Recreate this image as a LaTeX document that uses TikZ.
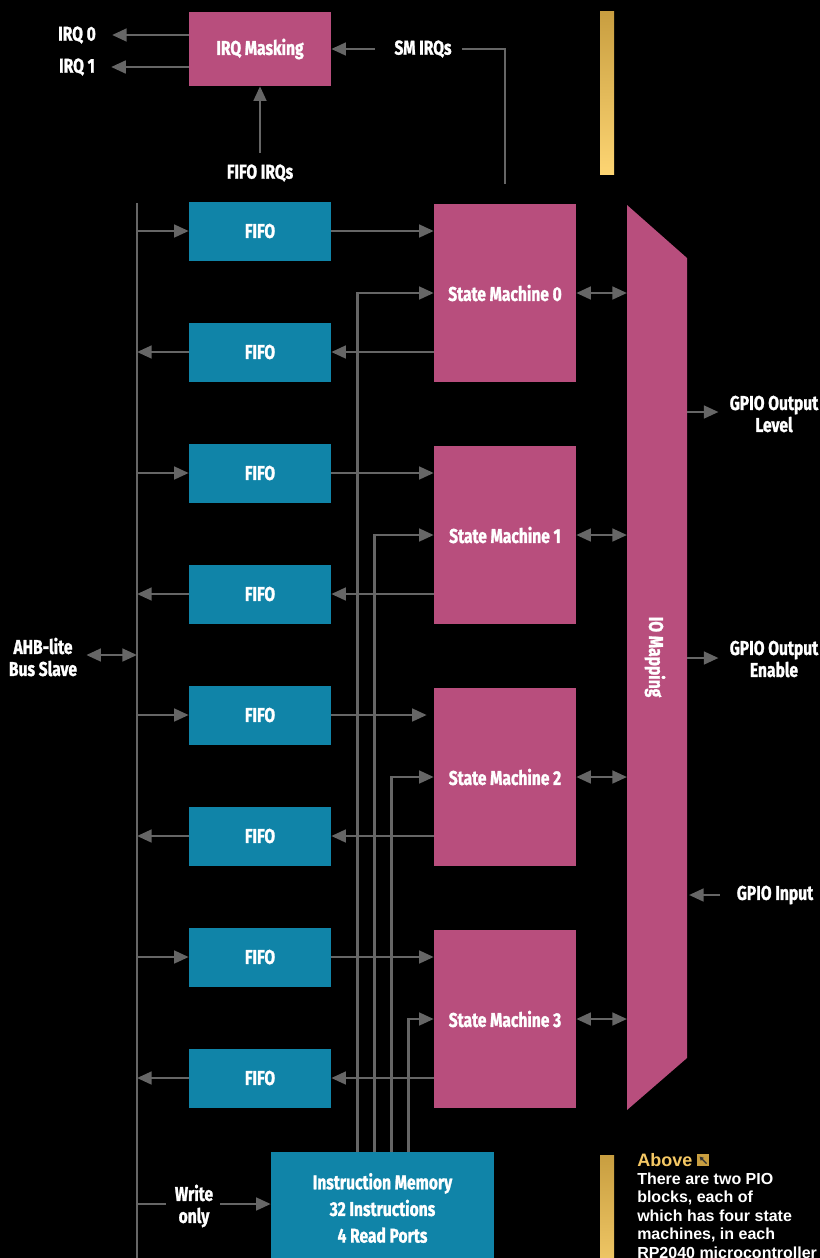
\documentclass[tikz,border=0pt]{standalone}
\usepackage{fontspec}
\setmainfont{Liberation Sans}
\newfontfamily\din[FakeStretch=0.78,FakeBold=1.2]{Fira Sans}
\usetikzlibrary{arrows.meta,calc}
\definecolor{pinkc}{RGB}{184,78,125}
\definecolor{tealc}{RGB}{16,132,168}
\definecolor{linec}{RGB}{102,102,102}
\definecolor{goldt}{RGB}{200,158,64}
\definecolor{goldb}{RGB}{253,213,115}
\definecolor{goldtxt}{RGB}{245,200,100}
\newdimen\pxu \pxu=0.75pt
\begin{document}
\begin{tikzpicture}[x=0.75pt,y=-0.75pt,
  dinfont/.style={font=\din\bfseries\fontsize{15}{16.5}\selectfont},
  box/.style={draw=none, inner sep=0pt, text=white, dinfont, align=center},
  pinkbox/.style={box, fill=pinkc, minimum width=142\pxu},
  fifobox/.style={box, fill=tealc, minimum width=142\pxu, minimum height=59\pxu},
  smbox/.style={box, fill=pinkc, minimum width=142\pxu, minimum height=178\pxu},
  lbl/.style={text=white, inner sep=0pt, dinfont, align=center},
  wire/.style={draw=linec, line width=2pt},
  arr/.style={wire, -{Triangle[length=11pt,width=9.5pt]}},
  darr/.style={wire, {Triangle[length=11pt,width=9.5pt]}-{Triangle[length=11pt,width=9.5pt]}},
  captxt/.style={text=white, inner sep=0pt, anchor=base west, font=\bfseries\fontsize{12}{14}\selectfont}
]
\useasboundingbox (0,0) rectangle (820,1258);
\fill[black] (0,0) rectangle (820,1258);

% gold bars
\shade[top color=goldt, bottom color=goldb] (600,11) rectangle (614,174);
\shade[top color=goldt, bottom color=goldb] (600,1155) rectangle (614,1300);

% top part
\node[pinkbox, minimum height=74\pxu] (irqm) at (260,49) {IRQ Masking};
\node[lbl] (irq0) at (77,35) {IRQ 0};
\node[lbl] (irq1) at (77,67) {IRQ 1};
\node[lbl] (smirq) at (423,49) {SM IRQs};
\node[lbl] (fifoirq) at (260,173) {FIFO IRQs};

% FIFOs
\foreach \i/\y in {1/231,2/352,3/473,4/594,5/715,6/836,7/957,8/1078}
  \node[fifobox] (f\i) at (260,\y) {FIFO};

% State machines
\foreach \i/\y in {0/293,1/535,2/777,3/1019}
  \node[smbox] (sm\i) at (505,\y) {State Machine \i};

% instruction memory
\node[box, fill=tealc, minimum width=223\pxu, minimum height=112\pxu,
      font=\din\bfseries\fontsize{15}{20}\selectfont] (imem) at (382.5,1208)
      {Instruction Memory\\32 Instructions\\4 Read Ports};

% IO mapping
\fill[pinkc] (627,205) -- (687,258) -- (687,1058) -- (627,1110) -- cycle;
\node[lbl, rotate=-90] (iom) at (655,657) {IO Mapping};
\coordinate (iol) at (627,657);
\coordinate (ior) at (687,657);

% bus
\coordinate (bust) at (137,203);
\coordinate (busb) at (137,1262);
\draw[wire] (bust) -- (busb);

\node[lbl] (ahb) at (43,657) {AHB-lite\\Bus Slave};
\draw[darr] ($(ahb.east)+(9,-2)$) -- ($(ahb.east -| bust)+(0,-2)$);

% IRQ connections
\draw[arr] (irqm.west |- irq0) -- ($(irq0.east)+(16,0)$);
\draw[arr] (irqm.west |- irq1) -- ($(irq1.east)+(16,0)$);
\draw[arr] ($(smirq.west)+(-19,0)$) -- (irqm.east |- smirq);
\draw[wire] ($(smirq.east)+(10,0)$) -| ($(sm0.north)+(0,-20)$);
\draw[arr] ($(fifoirq.north)+(0,-11)$) -- (irqm.south);

% bus <-> FIFO
\foreach \i in {1,3,5,7} \draw[arr] (f\i.west -| bust) -- (f\i.west);
\foreach \i in {2,4,6,8} \draw[arr] (f\i.west) -- (f\i.west -| bust);

% instruction memory -> SMs
\draw[arr] ($(imem.north west)+(87,0)$) |- (sm0.west);
\draw[arr] ($(imem.north west)+(104,0)$) |- (sm1.west);
\draw[arr] ($(imem.north west)+(121,0)$) |- (sm2.west);
\draw[arr] ($(imem.north west)+(138,0)$) |- (sm3.west);

% FIFO <-> SM
\draw[arr] (f1.east) -- (f1.east -| sm0.west);
\draw[arr] (sm0.west |- f2.east) -- (f2.east);
\draw[arr] (f3.east) -- (f3.east -| sm1.west);
\draw[arr] (sm1.west |- f4.east) -- (f4.east);
\draw[arr] (f5.east) -- ($(f5.east -| sm2.west)+(-7,0)$);
\draw[arr] (sm2.west |- f6.east) -- (f6.east);
\draw[arr] (f7.east) -- (f7.east -| sm3.west);
\draw[arr] (sm3.west |- f8.east) -- (f8.east);

% SM <-> IO
\foreach \i in {0,1,2,3} \draw[darr] (sm\i.east) -- (sm\i.east -| iol);

% GPIO
\node[lbl] (gol) at (774,414) {GPIO Output\\Level};
\node[lbl] (goe) at (774,659) {GPIO Output\\Enable};
\node[lbl] (gin) at (775,895) {GPIO Input};
\draw[arr] ($(ior |- gol)+(0,-2)$) -- ($(gol.west)+(-11,-2)$);
\draw[arr] ($(ior |- goe)+(0,-1)$) -- ($(goe.west)+(-11,-1)$);
\draw[arr] ($(gin.west)+(-17,0)$) -- ($(ior |- gin)+(2,0)$);

% write only
\node[lbl] (wo) at (194,1206) {Write\\only};
\draw[wire] ($(wo.west -| bust)+(0,-2)$) -- ($(wo.west)+(-9,-2)$);
\draw[arr] ($(wo.east)+(7,-2)$) -- ($(wo.east -| imem.west)+(0,-2)$);

% caption
\node[captxt, text=goldtxt, font=\bfseries\fontsize{13.5}{16}\selectfont] (above) at (637,1166) {Above};
\fill[goldt] (697,1154) rectangle (709,1166);
\draw[black!80, line width=0.9pt, -{Triangle[length=3pt,width=3pt]}] (706.5,1163.5) -- (699.5,1156.5);
\node[captxt] (c1) at (637,1184) {There are two PIO};
\node[captxt] (c2) at (637,1202.5) {blocks, each of};
\node[captxt] (c3) at (637,1221) {which has four state};
\node[captxt] (c4) at (637,1239.5) {machines, in each};
\node[captxt] (c5) at (637,1258) {RP2040 microcontroller};
\end{tikzpicture}
\end{document}
